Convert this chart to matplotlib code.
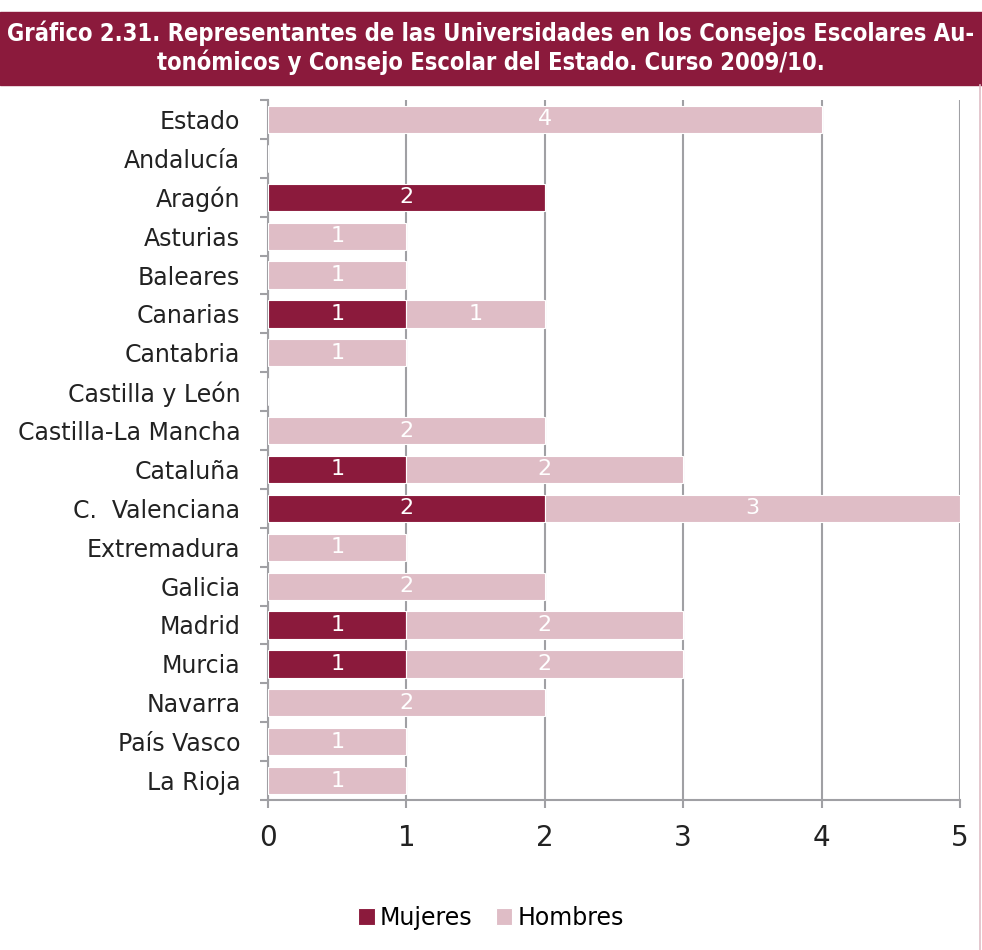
import matplotlib
matplotlib.use("Agg")
from matplotlib import pyplot as plt
from matplotlib.patches import Rectangle
from matplotlib.lines import Line2D
import numpy as np

regiones = ["Estado", "Andalucía", "Aragón", "Asturias", "Baleares", "Canarias",
            "Cantabria", "Castilla y León", "Castilla-La Mancha", "Cataluña",
            "C.  Valenciana", "Extremadura", "Galicia", "Madrid", "Murcia",
            "Navarra", "País Vasco", "La Rioja"]
mujeres = [0, 0, 2, 0, 0, 1, 0, 0, 0, 1, 2, 0, 0, 1, 1, 0, 0, 0]
hombres = [4, 0, 0, 1, 1, 1, 1, 0, 2, 2, 3, 1, 2, 2, 2, 2, 1, 1]

titulo = ("Gráfico 2.31. Representantes de las Universidades en los Consejos Escolares Au-\n"
          "tonómicos y Consejo Escolar del Estado. Curso 2009/10.")

c_muj = "#8B1A3C"
c_hom = "#DFBDC6"
gris = "#A0A0A4"

fig = plt.figure(figsize=(9.82, 9.5), dpi=100)

# title bar
fig.patches.append(Rectangle((0, 1 - 85 / 950), 1, 73 / 950, transform=fig.transFigure,
                             color=c_muj, zorder=0))
fig.text(0.5, 1 - 48 / 950, titulo, ha="center", va="center", color="white",
         fontsize=17, fontweight="bold", linespacing=1.15, fontstretch="condensed",
         family=["DejaVu Sans"])
# thin border at right
fig.lines.append(Line2D([979.5 / 982, 979.5 / 982], [0, 1 - 85 / 950],
                        transform=fig.transFigure, color=c_hom, lw=1.2))

ax = fig.add_axes([268 / 982, 150 / 950, 692 / 982, 700 / 950])
y = np.arange(len(regiones))
m = np.array(mujeres)
h = np.array(hombres)
ax.barh(y, m, height=0.7, color=c_muj, edgecolor="white", linewidth=0.8, label="Mujeres", zorder=3)
ax.barh(y, h, left=m, height=0.7, color=c_hom, edgecolor="white", linewidth=0.8, label="Hombres", zorder=3)

for i in range(len(regiones)):
    if m[i] > 0:
        ax.text(m[i] / 2, y[i], str(m[i]), ha="center", va="center", color="white",
                fontsize=16, zorder=4)
    if h[i] > 0:
        ax.text(m[i] + h[i] / 2, y[i], str(h[i]), ha="center", va="center", color="white",
                fontsize=16, zorder=4)

ax.set_xlim(0, 5)
ax.set_ylim(len(regiones) - 0.5, -0.5)
ax.set_yticks(y)
ax.set_yticklabels(regiones, fontsize=17, color="#222222")
ax.set_yticks(np.arange(-0.5, len(regiones), 1), minor=True)
ax.tick_params(axis="y", which="major", length=0, pad=20)
ax.tick_params(axis="y", which="minor", length=6, color=gris, width=1.5)
ax.set_xticks(range(6))
ax.tick_params(axis="x", length=6, color=gris, width=1.5, labelsize=20, pad=11,
               labelcolor="#222222")
ax.xaxis.grid(True, color=gris, lw=1.5, zorder=0)
for s in ["top", "right"]:
    ax.spines[s].set_visible(False)
for s in ["left", "bottom"]:
    ax.spines[s].set_color(gris)
    ax.spines[s].set_linewidth(1.5)

fig.legend(loc="center", bbox_to_anchor=(0.5, 1 - 918 / 950), ncol=2, frameon=False,
           fontsize=17, handlelength=0.7, handleheight=0.7, handletextpad=0.2,
           columnspacing=1.0)

fig.savefig("out.png", dpi=100)
